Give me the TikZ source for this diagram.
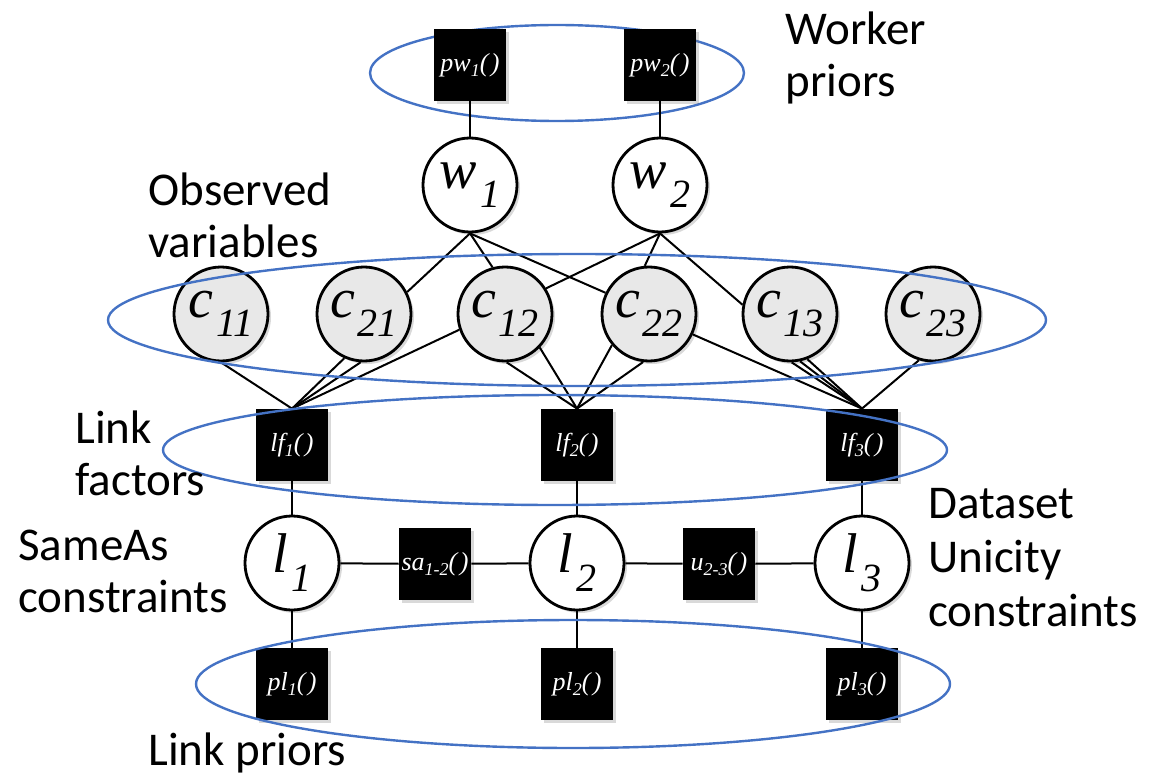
\documentclass[tikz,border=0pt]{standalone}
\usepackage{fontspec}
\setmainfont{Liberation Serif}
\newfontfamily\labfont{Carlito}
\usetikzlibrary{shadows}
\definecolor{grpblue}{HTML}{4472C4}
\definecolor{obsgray}{HTML}{E8E8E8}
\newcommand{\vsub}[1]{\kern1.5pt\raisebox{-9.5pt}{\fontsize{20}{20}\selectfont #1}}
\newcommand{\fsub}[1]{\raisebox{-2.5pt}{\fontsize{9}{9}\selectfont #1}}
\newcommand{\fpar}{(\kern1.2pt)}
\begin{document}
\begin{tikzpicture}[x=0.5pt,y=-0.5pt,
  var/.style={circle, draw=black, line width=1.4pt, fill=white, minimum size=47pt, inner sep=0pt,
    font=\fontsize{28}{28}\selectfont\itshape,
    drop shadow={opacity=0.3, shadow xshift=1.5pt, shadow yshift=-1.5pt}},
  obs/.style={var, fill=obsgray},
  fac/.style={rectangle, fill=black, minimum size=36pt, inner sep=0pt, text=white,
    font=\fontsize{13}{13}\selectfont\itshape,
    drop shadow={opacity=0.3, shadow xshift=1.5pt, shadow yshift=-1.5pt}},
  edge/.style={line width=1pt},
  grp/.style={draw=grpblue, line width=1.2pt},
  lab/.style={anchor=base west, align=left, inner sep=0pt,
    font=\labfont\fontsize{23.5}{26}\selectfont}]
\useasboundingbox (0,0) rectangle (1155,775);

% worker priors group (under the boxes)
\draw[grp] (557,73) ellipse [x radius=187, y radius=48];

% nodes
\node[fac] (pw1) at (470,65) {pw\fsub{1}\fpar};
\node[fac] (pw2) at (660,65) {pw\fsub{2}\fpar};
\node[var] (w1) at (470,185) {w\vsub{1}};
\node[var] (w2) at (660,185) {w\vsub{2}};

\node[obs] (c11) at (221,314) {c\vsub{11}};
\node[obs] (c21) at (364,314) {c\vsub{21}};
\node[obs] (c12) at (505,314) {c\vsub{12}};
\node[obs] (c22) at (649,314) {c\vsub{22}};
\node[obs] (c13) at (790,314) {c\vsub{13}};
\node[obs] (c23) at (933,314) {c\vsub{23}};

\node[fac] (lf1) at (292,445) {lf\fsub{1}\fpar};
\node[fac] (lf2) at (577,445) {lf\fsub{2}\fpar};
\node[fac] (lf3) at (862,445) {lf\fsub{3}\fpar};

\node[var] (l1) at (292,563) {l\vsub{1}};
\node[var] (l2) at (577,563) {l\vsub{2}};
\node[var] (l3) at (862,563) {l\vsub{3}};
\node[fac] (sa) at (435,564) {sa\fsub{1-2}\fpar};
\node[fac] (u) at (719,564) {u\fsub{2-3}\fpar};

\node[fac] (pl1) at (292,684) {pl\fsub{1}\fpar};
\node[fac] (pl2) at (577,684) {pl\fsub{2}\fpar};
\node[fac] (pl3) at (862,684) {pl\fsub{3}\fpar};

% connectors
\draw[edge] (pw1) -- (w1);
\draw[edge] (pw2) -- (w2);
\draw[edge] (w1.south) -- (c21.27);
\draw[edge] (w1.south) -- (c12.105);
\draw[edge] (w1.south) -- (c22.154);
\draw[edge] (w2.south) -- (c12.32);
\draw[edge] (w2.south) -- (c22.95);
\draw[edge] (w2.south) -- (c13.169);

\draw[edge] (c11.south) -- (lf1.north);
\draw[edge] (c21.246) -- (lf1.north);
\draw[edge] (c21.266) -- (lf1.north);
\draw[edge] (c12.199) -- (lf1.north);

\draw[edge] (c12.272) -- (lf2.north);
\draw[edge] (c12.316) -- (lf2.north);
\draw[edge] (c22.220) -- (lf2.north);
\draw[edge] (c22.263) -- (lf2.north);

\draw[edge] (c22.335) -- (lf3.north);
\draw[edge] (c13.272) -- (lf3.north);
\draw[edge] (c13.282) -- (lf3.north);
\draw[edge] (c13.291) -- (lf3.north);
\draw[edge] (c23.253) -- (lf3.north);

\draw[edge] (lf1) -- (l1);
\draw[edge] (lf2) -- (l2);
\draw[edge] (lf3) -- (l3);
\draw[edge] (l1) -- (sa);
\draw[edge] (sa) -- (l2);
\draw[edge] (l2) -- (u);
\draw[edge] (u) -- (l3);
\draw[edge] (l1) -- (pl1);
\draw[edge] (l2) -- (pl2);
\draw[edge] (l3) -- (pl3);

% group ellipses (over the nodes)
\draw[grp] (577,320) ellipse [x radius=469, y radius=66];
\draw[grp] (555,450) ellipse [x radius=392, y radius=55];
\draw[grp] (573,684) ellipse [x radius=377, y radius=64];

% labels (anchored at the baseline of the last line)
\node[lab] (tworker) at (785,97) {Worker\\priors};
\node[lab] (tobs) at (148,257) {Observed\\variables};
\node[lab] (tlf) at (75,495) {Link\\factors};
\node[lab] (tsame) at (18,612) {SameAs\\constraints};
\node[lab, font=\labfont\fontsize{23.5}{27}\selectfont] (tuni) at (928,626) {Dataset\\Unicity\\constraints};
\node[lab] (tlp) at (148,765) {Link priors};
\end{tikzpicture}
\end{document}
